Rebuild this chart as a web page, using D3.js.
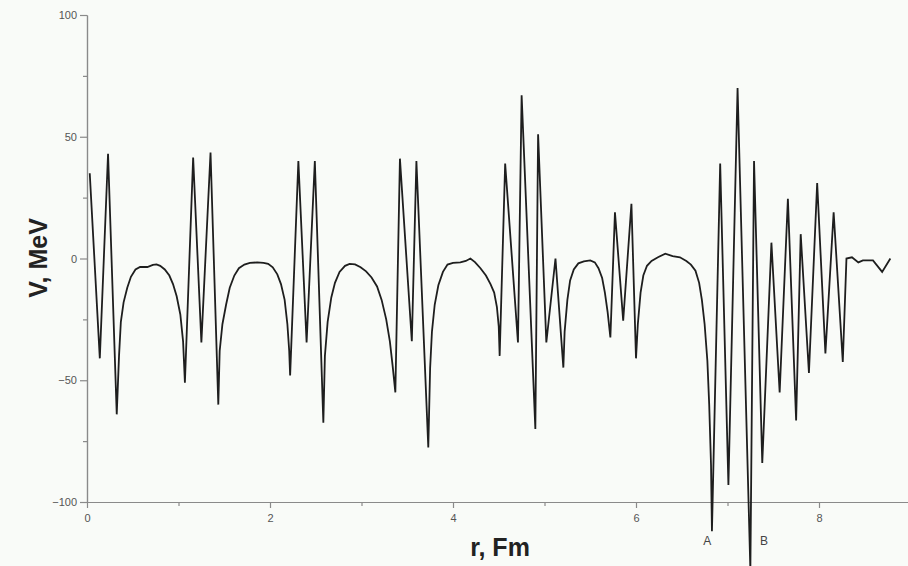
<!DOCTYPE html>
<html>
<head>
<meta charset="utf-8">
<script src="https://cdn.jsdelivr.net/npm/d3@7"></script>
<style>
  html, body { margin: 0; padding: 0; background: #f9fbf8; }
  svg { display: block; }
  .tick text { font-family: "Liberation Sans", Arial, sans-serif; font-size: 11px; fill: #555; }
  .axisTitle { font-family: "Liberation Sans", Arial, sans-serif; font-size: 25px; font-weight: bold; fill: #222; }
  .mark { font-family: "Liberation Sans", Arial, sans-serif; font-size: 12px; fill: #444; }
</style>
</head>
<body>
<div class="chart"></div>
<script>
// r (Fm) and V (MeV)
var rValues = [
  0.03, 0.14, 0.23, 0.325,
  0.35, 0.37, 0.40, 0.44, 0.48, 0.53, 0.58, 0.66, 0.72, 0.76, 0.80, 0.85, 0.90, 0.94, 0.98, 1.02, 1.05, 1.07,
  1.16, 1.25, 1.35, 1.435,
  1.45, 1.48, 1.52, 1.56, 1.61, 1.66, 1.72, 1.78, 1.86, 1.93, 1.98, 2.03, 2.08, 2.12, 2.16, 2.19, 2.21, 2.22,
  2.31, 2.40, 2.49, 2.583,
  2.60, 2.63, 2.67, 2.71, 2.76, 2.82, 2.87, 2.93, 2.99, 3.05, 3.11, 3.17, 3.22, 3.27, 3.31, 3.34, 3.37,
  3.42, 3.55, 3.60, 3.73,
  3.75, 3.77, 3.80, 3.84, 3.89, 3.94, 4.00, 4.08, 4.14, 4.19, 4.24, 4.30, 4.36, 4.41, 4.45, 4.48, 4.50, 4.51,
  4.57, 4.71, 4.75, 4.90, 4.93, 5.02, 5.12, 5.206,
  5.22, 5.25, 5.28, 5.32, 5.37, 5.43, 5.50, 5.55, 5.59, 5.63, 5.66, 5.69, 5.72,
  5.77, 5.86, 5.95, 6.00,
  6.02, 6.05, 6.08, 6.12, 6.17, 6.24, 6.32, 6.40, 6.48, 6.55, 6.60, 6.65, 6.69, 6.72, 6.75, 6.78, 6.80, 6.82, 6.83,
  6.92, 7.01, 7.11, 7.25, 7.29, 7.38, 7.48, 7.57, 7.66, 7.75, 7.80, 7.89, 7.98, 8.07, 8.16, 8.26,
  8.30, 8.36, 8.43, 8.48, 8.59, 8.69, 8.78
];
var vValues = [
  35, -41, 43, -64,
  -40, -26, -18, -12, -7.5, -4.5, -3.5, -3.5, -2.6, -2.4, -3, -4.5, -7, -10.5, -15.5, -23, -34, -51,
  41.5, -34.5, 43.5, -60,
  -38, -27, -19, -12, -7, -4, -2.5, -1.8, -1.6, -1.8, -2.2, -3.6, -6.5, -10.5, -17, -27, -38, -48,
  40, -34.5, 40, -67.4,
  -40, -26, -16, -10, -5.5, -3, -2.2, -2.4, -3.6, -5.3, -7.8, -11.5, -17, -25, -34, -44, -55,
  41, -34, 40, -77.6,
  -45, -30, -19, -11, -5.5, -2.5, -1.8, -1.6, -1, 0, -1.5, -4, -7, -10.5, -14, -20, -28, -40,
  39, -34.5, 67, -70, 51, -34.5, 0, -44.8,
  -30, -17, -9, -4.5, -2, -1.2, -0.8, -1.6, -4, -8, -14, -22, -32.4,
  19, -25.5, 22.5, -41,
  -27, -14, -7, -3, -1, 0.5, 2, 1, 0.5, -1, -2.5, -5, -10, -17, -27, -42, -60, -85, -112,
  39, -93, 70, -128, 40, -84, 6.5, -55, 24.5, -66.5, 10, -47, 31, -39, 19, -42.5,
  0, 0.5, -1.6, -0.8, -0.8, -5.5, 0
];

var xMajor = [0, 2, 4, 6, 8];
var xMinor = [1, 3, 5, 7];
var yMajor = [-100, -50, 0, 50, 100];
var yMinor = [-75, -25, 25, 75];
var pointLabels = ["A", "B"];
var pointLabelR = [6.78, 7.40];

var svgWidth = 908;
var svgHeight = 566;

var svg = d3.select(".chart")
  .append("svg")
  .attr("width", svgWidth)
  .attr("height", svgHeight);

var xScale = d3.scaleLinear().domain([0, 9]).range([87, 910.5]);
var yScale = d3.scaleLinear().domain([-100, 100]).range([502, 15]);

var data = rValues.map((r, i) => ({ r: r, v: vValues[i] }));

// axes
var bottomAxis = d3.axisBottom(xScale).tickValues(xMajor).tickSize(6).tickSizeOuter(0).tickPadding(6).tickFormat(d3.format("d"));
var bottomMinor = d3.axisBottom(xScale).tickValues(xMinor).tickSize(4).tickSizeOuter(0).tickFormat("");
var leftAxis = d3.axisLeft(yScale).tickValues(yMajor).tickSize(7).tickSizeOuter(0).tickPadding(3).tickFormat(d3.format("d"));
var leftMinor = d3.axisLeft(yScale).tickValues(yMinor).tickSize(4).tickSizeOuter(0).tickFormat("");

function styleAxis(g) {
  g.select(".domain").attr("stroke", "#8a8a8a").attr("stroke-width", 1.2);
  g.selectAll(".tick line").attr("stroke", "#8a8a8a").attr("stroke-width", 1.2);
}

svg.append("g").attr("transform", `translate(0, ${yScale(-100)})`).call(bottomAxis).call(styleAxis);
svg.append("g").attr("transform", `translate(0, ${yScale(-100)})`).call(bottomMinor).call(styleAxis);
svg.append("g").attr("transform", `translate(${xScale(0)}, 0)`).call(leftAxis).call(styleAxis);
svg.append("g").attr("transform", `translate(${xScale(0)}, 0)`).call(leftMinor).call(styleAxis);

// curve
var line = d3.line()
  .x(d => xScale(d.r))
  .y(d => yScale(d.v));

svg.append("path")
  .datum(data)
  .attr("fill", "none")
  .attr("stroke", "#1e1e1e")
  .attr("stroke-width", 1.8)
  .attr("stroke-linejoin", "miter")
  .attr("stroke-miterlimit", 10)
  .attr("d", line);

// labels A and B
svg.selectAll(".mark")
  .data(pointLabels)
  .enter()
  .append("text")
  .attr("class", "mark")
  .attr("x", (d, i) => xScale(pointLabelR[i]))
  .attr("y", 545)
  .attr("text-anchor", "middle")
  .text(d => d);

// axis titles
svg.append("text")
  .attr("class", "axisTitle")
  .attr("x", 500)
  .attr("y", 556)
  .attr("text-anchor", "middle")
  .text("r, Fm");

svg.append("text")
  .attr("class", "axisTitle")
  .attr("transform", "translate(47, 258) rotate(-90)")
  .attr("text-anchor", "middle")
  .text("V, MeV");
</script>
</body>
</html>
